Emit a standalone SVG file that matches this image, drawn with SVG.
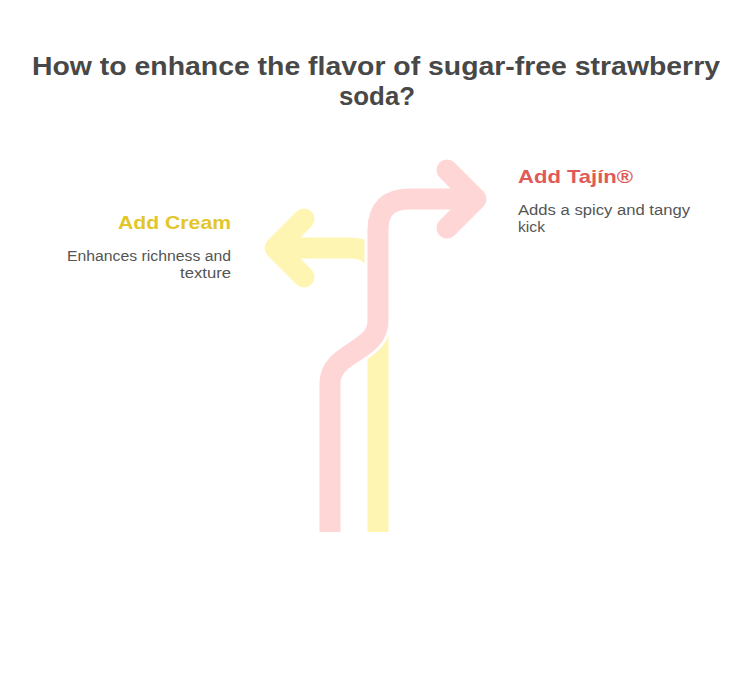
<svg xmlns="http://www.w3.org/2000/svg" width="756" height="691" viewBox="0 0 756 691">
<style>
.title{font-family:"Liberation Sans",Arial,sans-serif;font-weight:bold;font-size:25px;fill:#484848;text-anchor:middle}
.head{font-family:"Liberation Sans",Arial,sans-serif;font-weight:bold;font-size:19px}
.desc{font-family:"Liberation Sans",Arial,sans-serif;font-size:14px;fill:#555555}
.line{fill:none;stroke-width:21;stroke-linecap:butt;stroke-linejoin:round}
.head-arrow{fill:none;stroke-width:21;stroke-linecap:round;stroke-linejoin:round}
</style>
<rect width="756" height="691" fill="#ffffff"/>
<g id="title">
<text class="title" x="376" y="75" textLength="688" lengthAdjust="spacingAndGlyphs">How to enhance the flavor of sugar-free strawberry</text>
<text class="title" x="377" y="105" textLength="76" lengthAdjust="spacingAndGlyphs">soda?</text>
</g>
<g id="connectors">
<path class="line" stroke="#fff5b3" d="M378,532 V276 Q378,248 350,248 H276"/>
<path class="head-arrow" stroke="#fff5b3" d="M304,219 L275,248 L304,277"/>
<path fill="none" stroke="#ffffff" stroke-width="27" d="M330,521 V383 C330,352 378,352 378,321 V230 Q378,199 409,199"/>
<path class="line" stroke="#ffd6d6" d="M330,532 V383 C330,352 378,352 378,321 V230 Q378,199 409,199 H476"/>
<path class="head-arrow" stroke="#ffd6d6" d="M447,170 L476,199 L447,228"/>
</g>
<g id="cream">
<text class="head" x="231" y="229" text-anchor="end" fill="#e3c628" textLength="113" lengthAdjust="spacingAndGlyphs">Add Cream</text>
<text class="desc" x="231" y="261" text-anchor="end" textLength="164" lengthAdjust="spacingAndGlyphs">Enhances richness and</text>
<text class="desc" x="231" y="278" text-anchor="end" textLength="51" lengthAdjust="spacingAndGlyphs">texture</text>
</g>
<g id="tajin">
<text class="head" x="518" y="183" fill="#e05a57" textLength="115" lengthAdjust="spacingAndGlyphs">Add Tajín®</text>
<text class="desc" x="518" y="215" textLength="172" lengthAdjust="spacingAndGlyphs">Adds a spicy and tangy</text>
<text class="desc" x="518" y="232" textLength="27" lengthAdjust="spacingAndGlyphs">kick</text>
</g>
</svg>
